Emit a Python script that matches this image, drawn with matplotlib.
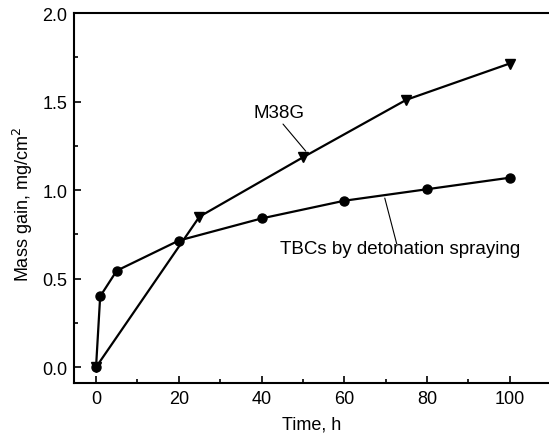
import matplotlib.pyplot as plt
from matplotlib.ticker import MultipleLocator

plt.rcParams['font.family'] = ['Liberation Sans', 'DejaVu Sans']

# Daten
t_tbc = [0, 1, 5, 20, 40, 60, 80, 100]
m_tbc = [0.0, 0.40, 0.545, 0.715, 0.84, 0.94, 1.005, 1.07]
t_m38g = [0, 25, 50, 75, 100]
m_m38g = [0.0, 0.85, 1.185, 1.51, 1.715]

fig = plt.figure(figsize=(5.49, 4.39), dpi=100)
ax = fig.add_axes([0.135, 0.125, 0.865, 0.843])

ax.plot(t_tbc, m_tbc, '-o', color='black', lw=1.6, ms=6.5)
ax.plot(t_m38g, m_m38g, '-v', color='black', lw=1.6, ms=7.5)

ax.set_xlim(-5.3, 109.5)
ax.set_ylim(-0.09, 2.0)
ax.xaxis.set_major_locator(MultipleLocator(20))
ax.xaxis.set_minor_locator(MultipleLocator(10))
ax.yaxis.set_major_locator(MultipleLocator(0.5))
ax.yaxis.set_minor_locator(MultipleLocator(0.25))
ax.yaxis.set_major_formatter(plt.FormatStrFormatter('%.1f'))
ax.tick_params(which='both', direction='in', labelsize=13, width=1.2)
ax.tick_params(which='major', length=5, pad=5)
ax.tick_params(which='minor', length=3)
ax.spines['right'].set_visible(False)
for s in ['left', 'bottom', 'top']:
    ax.spines[s].set_linewidth(1.5)

ax.set_xlabel('Time, h', fontsize=13, labelpad=6)
ax.set_ylabel('Mass gain, mg/cm$^2$', fontsize=13, labelpad=5)
ax.yaxis.label.set_y(0.484)

# Beschriftungen mit Hinweislinien
ax.text(44.2, 1.44, 'M38G', fontsize=13.5, ha='center', va='center')
ax.annotate('', xy=(50.7, 1.22), xytext=(45.2, 1.373),
            arrowprops=dict(arrowstyle='-', lw=0.8, color='black', shrinkA=0, shrinkB=0))
ax.text(73.4, 0.672, 'TBCs by detonation spraying', fontsize=13.5, ha='center', va='center')
ax.annotate('', xy=(72.7, 0.695), xytext=(69.8, 0.955),
            arrowprops=dict(arrowstyle='-', lw=0.8, color='black', shrinkA=0, shrinkB=0))

fig.savefig('out.png', dpi=100)
